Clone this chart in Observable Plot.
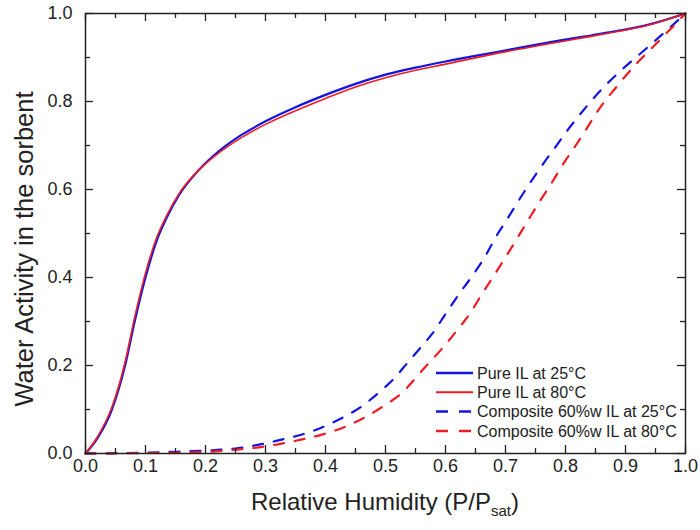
<!DOCTYPE html>
<html><head><meta charset="utf-8">
<script src="https://cdn.jsdelivr.net/npm/d3@7"></script>
<script src="https://cdn.jsdelivr.net/npm/@observablehq/plot@0.6"></script>
<style>body{margin:0;background:#fff}</style>
</head><body><div id="chart"></div>
<script>
// ---- data ----
const pureX   = [0, 0.02, 0.044, 0.066, 0.082, 0.1, 0.119, 0.135, 0.157, 0.188, 0.225, 0.26, 0.3, 0.35, 0.4, 0.45, 0.5, 0.55, 0.6, 0.692, 0.775, 0.858, 0.942, 1.0];
const pure25  = [0, 0.035, 0.1, 0.2, 0.3, 0.4, 0.485, 0.535, 0.59, 0.643, 0.69, 0.724, 0.755, 0.787, 0.815, 0.84, 0.861, 0.877, 0.891, 0.914, 0.935, 0.954, 0.976, 1.0];
const pure80  = [0, 0.038, 0.105, 0.208, 0.31, 0.41, 0.492, 0.54, 0.593, 0.643, 0.686, 0.718, 0.748, 0.779, 0.807, 0.833, 0.854, 0.871, 0.885, 0.911, 0.932, 0.952, 0.975, 1.0];
const comp25X = [0, 0.1, 0.15, 0.217, 0.253, 0.289, 0.325, 0.358, 0.392, 0.425, 0.458, 0.486, 0.514, 0.536, 0.558, 0.581, 0.6, 0.625, 0.647, 0.667, 0.683, 0.703, 0.722, 0.742, 0.761, 0.783, 0.803, 0.825, 0.864, 0.897, 0.936, 0.969, 1.0];
const comp25  = [0, 0.002, 0.004, 0.008, 0.012, 0.02, 0.031, 0.042, 0.058, 0.079, 0.105, 0.135, 0.17, 0.205, 0.24, 0.278, 0.317, 0.367, 0.408, 0.45, 0.49, 0.533, 0.575, 0.617, 0.655, 0.696, 0.734, 0.772, 0.833, 0.876, 0.922, 0.962, 1.0];
const comp80X = [0, 0.1, 0.15, 0.217, 0.253, 0.289, 0.325, 0.361, 0.394, 0.428, 0.464, 0.497, 0.525, 0.564, 0.592, 0.617, 0.642, 0.661, 0.681, 0.7, 0.719, 0.739, 0.758, 0.778, 0.797, 0.817, 0.836, 0.853, 0.886, 0.919, 0.953, 0.981, 1.0];
const comp80  = [0, 0.001, 0.002, 0.005, 0.009, 0.014, 0.022, 0.032, 0.043, 0.058, 0.081, 0.108, 0.135, 0.193, 0.235, 0.276, 0.321, 0.363, 0.405, 0.446, 0.488, 0.533, 0.575, 0.617, 0.66, 0.70, 0.74, 0.777, 0.835, 0.887, 0.934, 0.973, 1.0];
const seriesNames = ["Pure IL at 25°C", "Pure IL at 80°C", "Composite 60%w IL at 25°C", "Composite 60%w IL at 80°C"];
const xMajor = [0, 0.1, 0.2, 0.3, 0.4, 0.5, 0.6, 0.7, 0.8, 0.9, 1.0];
const xMinor = [0.05, 0.15, 0.25, 0.35, 0.45, 0.55, 0.65, 0.75, 0.85, 0.95];
const yMajor = [0, 0.2, 0.4, 0.6, 0.8, 1.0];
const yMinor = [0.1, 0.3, 0.5, 0.7, 0.9];
const xTitle = ["Relative Humidity (P/P", "sat", ")"];
const yTitle = "Water Activity in the sorbent";

// ---- styles ----
const BLUE = "#1414e0", RED = "#ee1c24";
const FONT = "'Liberation Sans', Arial, Helvetica, sans-serif";
const series = [
  {name: seriesNames[0], x: pureX, y: pure25, color: BLUE, dash: null, w: 2.2},
  {name: seriesNames[1], x: pureX, y: pure80, color: RED, dash: null, w: 1.6},
  {name: seriesNames[2], x: comp25X, y: comp25, color: BLUE, dash: "10,11", w: 2.2},
  {name: seriesNames[3], x: comp80X, y: comp80, color: RED, dash: "10,11", w: 2.2}
];
const W = 700, H = 530, mL = 85, mR = 15, mT = 13, mB = 77;
const innerW = W - mL - mR, innerH = H - mT - mB;
const MAJ = 8, MIN = 5;

const lineMarks = series.map(s => Plot.line(s.x.map((x, i) => ({x, y: s.y[i]})), {
  x: "x", y: "y", stroke: s.color, strokeWidth: s.w, strokeDasharray: s.dash, curve: "monotone-x"
}));
const tickStyle = {stroke: "#222", strokeWidth: 1.3};

const plot = Plot.plot({
  width: W, height: H,
  marginLeft: mL, marginRight: mR, marginTop: mT, marginBottom: mB,
  style: {fontFamily: FONT, fontSize: "18px", color: "#222", background: "#fff"},
  x: {domain: [0, 1]},
  y: {domain: [0, 1]},
  marks: [
    ...lineMarks,
    // inward ticks on all four sides
    Plot.tickX(xMajor, {x: d => d, insetTop: innerH - MAJ, ...tickStyle}),
    Plot.tickX(xMinor, {x: d => d, insetTop: innerH - MIN, ...tickStyle}),
    Plot.tickX(xMajor, {x: d => d, insetBottom: innerH - MAJ, ...tickStyle}),
    Plot.tickX(xMinor, {x: d => d, insetBottom: innerH - MIN, ...tickStyle}),
    Plot.tickY(yMajor, {y: d => d, insetRight: innerW - MAJ, ...tickStyle}),
    Plot.tickY(yMinor, {y: d => d, insetRight: innerW - MIN, ...tickStyle}),
    Plot.tickY(yMajor, {y: d => d, insetLeft: innerW - MAJ, ...tickStyle}),
    Plot.tickY(yMinor, {y: d => d, insetLeft: innerW - MIN, ...tickStyle}),
    // tick labels
    Plot.axisX(xMajor, {anchor: "bottom", tickSize: 0, tickPadding: 6, tickFormat: d3.format(".1f"), label: null, fontSize: 18}),
    Plot.axisY(yMajor, {anchor: "left", tickSize: 0, tickPadding: 13, tickFormat: d3.format(".1f"), label: null, fontSize: 18}),
    Plot.frame({stroke: "#222", strokeWidth: 1.5})
  ]
});

const svg = d3.select(plot);
// x title with subscript
const xt = svg.append("text")
  .attr("x", mL + innerW / 2).attr("y", 510)
  .attr("text-anchor", "middle").attr("font-size", 24).attr("fill", "#222").attr("font-family", FONT);
xt.append("tspan").text(xTitle[0]);
xt.append("tspan").attr("dy", 6).attr("font-size", 15).text(xTitle[1]);
xt.append("tspan").attr("dy", -6).text(xTitle[2]);
// y title
svg.append("text")
  .attr("transform", `translate(33,249) rotate(-90)`)
  .attr("text-anchor", "middle").attr("font-size", 25.5).attr("fill", "#222").attr("font-family", FONT)
  .text(yTitle);
// legend
const lg = svg.append("g").attr("font-family", FONT).attr("font-size", 16).attr("fill", "#222").attr("text-anchor", "start");
series.forEach((s, i) => {
  const cy = 373 + i * 19.3;
  lg.append("line").attr("x1", 436).attr("x2", 473).attr("y1", cy).attr("y2", cy)
    .attr("stroke", s.color).attr("stroke-width", s.w + 0.3).attr("stroke-dasharray", s.dash ? "12,11" : null);
  lg.append("text").attr("x", 477).attr("y", cy).attr("dy", "0.35em").attr("text-anchor", "start").text(s.name);
});

document.getElementById("chart").append(plot);
</script>
</body></html>
